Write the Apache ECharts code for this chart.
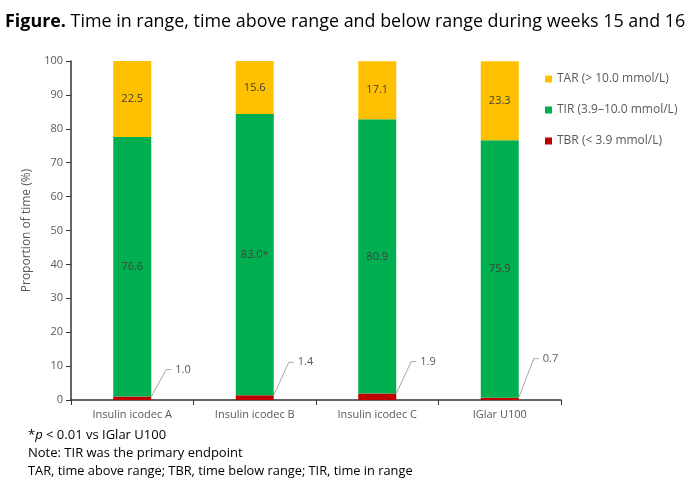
<!DOCTYPE html>
<html><head><meta charset="utf-8">
<script src="https://cdn.jsdelivr.net/npm/echarts@6/dist/echarts.min.js"></script>
<style>html,body{margin:0;padding:0;background:#fff}#c{width:685px;height:482px}</style>
</head><body><div id="c"></div>
<script>
const categories = ['Insulin icodec A', 'Insulin icodec B', 'Insulin icodec C', 'IGlar U100'];
const tbr = [1.0, 1.4, 1.9, 0.7];
const tir = [76.6, 83.0, 80.9, 75.9];
const tar = [22.5, 15.6, 17.1, 23.3];
const tirLabels = ['76.6', '83.0*', '80.9', '75.9'];
const yTicks = [0, 10, 20, 30, 40, 50, 60, 70, 80, 90, 100];

const FONT = '"Open Sans", "Noto Sans", sans-serif';
const GRAY = '#595959';
const BAR_W = 38;
const chart = echarts.init(document.getElementById('c'), null, {renderer: 'canvas'});
const leaderRise = [27, 33, 32, 39];
chart.setOption({
  animation: false,
  textStyle: {fontFamily: FONT},
  title: {
    left: 0, top: 8,
    text: '{b|Figure.} Time in range, time above range and below range during weeks 15 and 16',
    textStyle: {fontFamily: FONT, fontSize: 17.9, fontWeight: 'normal', color: '#000',
      rich: {b: {fontFamily: FONT, fontSize: 17.9, fontWeight: 'bold', color: '#000'}}}
  },
  legend: {
    orient: 'vertical', left: 545, top: 73, padding: 0, icon: 'rect', itemWidth: 7, itemHeight: 7, itemGap: 19,
    textStyle: {fontFamily: FONT, fontSize: 12, color: GRAY},
    data: [{name: 'TAR (> 10.0 mmol/L)'}, {name: 'TIR (3.9–10.0 mmol/L)'}, {name: 'TBR (< 3.9 mmol/L)'}]
  },
  grid: {left: 71, right: 124, top: 61, bottom: 82},
  xAxis: {
    type: 'category', data: categories,
    axisLine: {lineStyle: {color: '#333', width: 1.5}},
    axisTick: {show: true, length: 5, lineStyle: {color: '#333'}},
    axisLabel: {color: GRAY, fontSize: 11, fontFamily: FONT, margin: 9}
  },
  yAxis: {
    type: 'value', min: yTicks[0], max: yTicks[yTicks.length - 1], interval: yTicks[1] - yTicks[0],
    name: 'Proportion of time (%)', nameLocation: 'middle', nameGap: 38,
    nameTextStyle: {color: GRAY, fontSize: 12, fontFamily: FONT},
    axisLine: {show: true, lineStyle: {color: '#333', width: 1.5}},
    axisTick: {show: true, length: 5, lineStyle: {color: '#333'}},
    axisLabel: {color: GRAY, fontSize: 11, fontFamily: FONT, margin: 8},
    splitLine: {show: false}
  },
  series: [
    {
      name: 'TBR (< 3.9 mmol/L)', type: 'bar', stack: 'a', barWidth: BAR_W, data: tbr,
      itemStyle: {color: '#C00000'}
    },
    {
      name: 'TIR (3.9–10.0 mmol/L)', type: 'bar', stack: 'a', barWidth: BAR_W, data: tir,
      itemStyle: {color: '#00B050'},
      label: {show: true, position: 'inside', color: '#404040', fontSize: 11, fontFamily: FONT,
        formatter: p => tirLabels[p.dataIndex]}
    },
    {
      name: 'TAR (> 10.0 mmol/L)', type: 'bar', stack: 'a', barWidth: BAR_W, data: tar,
      itemStyle: {color: '#FFC000'},
      label: {show: true, position: 'inside', color: '#404040', fontSize: 11, fontFamily: FONT,
        formatter: p => p.value.toFixed(1)}
    },
    {
      name: 'TBR labels', type: 'custom', data: tbr.map((v, i) => [i, v]),
      encode: {x: 0, y: 1}, silent: true, z: 5,
      renderItem: (params, api) => {
        const i = api.value(0);
        const p = api.coord([i, api.value(1)]);
        const x0 = p[0] + BAR_W / 2, y0 = p[1];
        const rise = leaderRise[params.dataIndex];
        const x1 = x0 + 15, y1 = y0 - rise;
        return {type: 'group', children: [
          {type: 'polyline', shape: {points: [[x0, y0], [x1, y1], [x1 + 5, y1]]},
            style: {stroke: '#a6a6a6', lineWidth: 1, fill: null}},
          {type: 'text', style: {x: x1 + 9, y: y1, text: api.value(1).toFixed(1), fill: GRAY,
            font: '11px ' + FONT, verticalAlign: 'middle', align: 'left'}}
        ]};
      }
    }
  ],
  graphic: [
    {type: 'text', left: 28, top: 429, style: {text: '*{i|p} < 0.01 vs IGlar U100', fill: '#000', font: '13px ' + FONT,
      rich: {i: {fontStyle: 'italic', fontSize: 13, fontFamily: FONT, fill: '#000'}}}},
    {type: 'text', left: 28, top: 447, style: {text: 'Note: TIR was the primary endpoint', fill: '#000', font: '13px ' + FONT}},
    {type: 'text', left: 28, top: 465, style: {text: 'TAR, time above range; TBR, time below range; TIR, time in range', fill: '#000', font: '12.8px ' + FONT}}
  ]
});
</script></body></html>
